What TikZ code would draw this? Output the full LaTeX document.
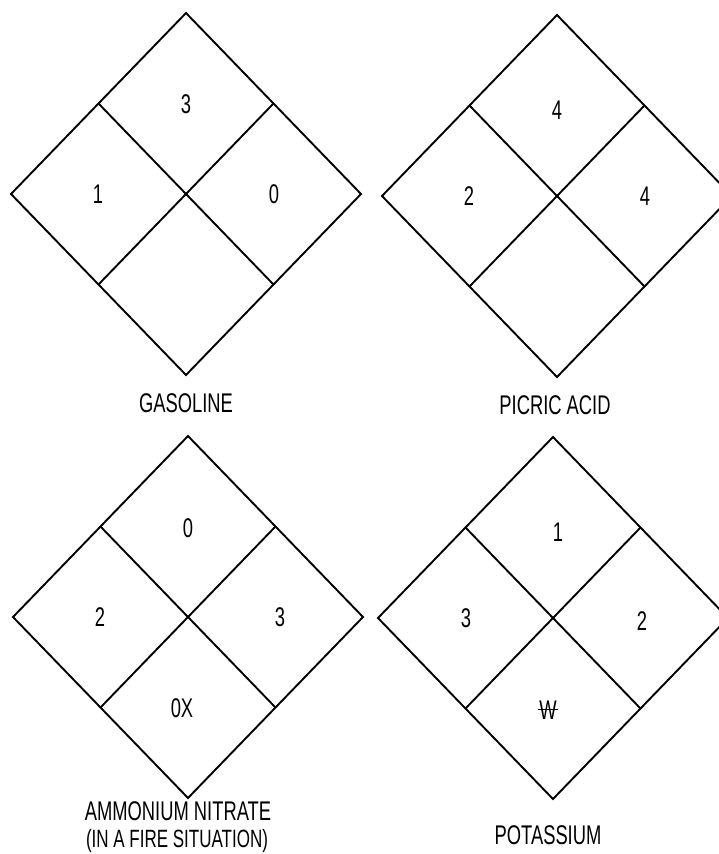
\documentclass[tikz,border=0pt]{standalone}
\usepackage{fontspec}
\setmainfont[FakeStretch=0.68]{Liberation Sans}
\begin{document}
\begin{tikzpicture}[
    x=1pt, y=-1pt,
    font=\fontsize{27}{30}\selectfont,
    %% Obrys kosoštvorca a deliace čiary
    hazline/.style={draw=black, line width=1.9pt, line join=miter},
    %% Číslo v poli
    rating/.style={inner sep=0pt},
    %% Názov látky
    caption/.style={inner sep=0pt, align=center}
]
\useasboundingbox (0,0) rectangle (719,854);
\clip (0,0) rectangle (719,854);

%% ══════════════════════════════════════════════════════════════════
%% PANEL (a) — Gasoline
%% ══════════════════════════════════════════════════════════════════
\begin{scope}[shift={(186,194)}]
    \coordinate (a1) at (0,-181);
    \coordinate (a2) at (175,0);
    \coordinate (a3) at (0,181);
    \coordinate (a4) at (-175,0);

    \draw[hazline] (a1) -- (a2) -- (a3) -- (a4) -- cycle;
    \draw[hazline] (-87.5,-90.5) coordinate (a5) -- (87.5,90.5) coordinate (a6);
    \draw[hazline] (87.5,-90.5) coordinate (a7) -- (-87.5,90.5) coordinate (a8);

    \node[rating] (a-top)   at (0,-90) {3};
    \node[rating] (a-left)  at (-88,0) {1};
    \node[rating] (a-right) at (88,0)  {0};

    \node[caption] (a-name) at (0,209) {GASOLINE};
\end{scope}

%% ══════════════════════════════════════════════════════════════════
%% PANEL (b) — Picric acid
%% ══════════════════════════════════════════════════════════════════
\begin{scope}[shift={(557,196)}]
    \coordinate (b1) at (0,-181);
    \coordinate (b2) at (175,0);
    \coordinate (b3) at (0,181);
    \coordinate (b4) at (-175,0);

    \draw[hazline] (b1) -- (b2) -- (b3) -- (b4) -- cycle;
    \draw[hazline] (-87.5,-90.5) coordinate (b5) -- (87.5,90.5) coordinate (b6);
    \draw[hazline] (87.5,-90.5) coordinate (b7) -- (-87.5,90.5) coordinate (b8);

    \node[rating] (b-top)   at (0,-86) {4};
    \node[rating] (b-left)  at (-88,0) {2};
    \node[rating] (b-right) at (88,0)  {4};

    \node[caption] (b-name) at (-2,209) {PICRIC ACID};
\end{scope}

%% ══════════════════════════════════════════════════════════════════
%% PANEL (c) — Ammonium nitrate
%% ══════════════════════════════════════════════════════════════════
\begin{scope}[shift={(188,617)}]
    \coordinate (c1) at (0,-181);
    \coordinate (c2) at (175,0);
    \coordinate (c3) at (0,181);
    \coordinate (c4) at (-175,0);

    \draw[hazline] (c1) -- (c2) -- (c3) -- (c4) -- cycle;
    \draw[hazline] (-87.5,-90.5) coordinate (c5) -- (87.5,90.5) coordinate (c6);
    \draw[hazline] (87.5,-90.5) coordinate (c7) -- (-87.5,90.5) coordinate (c8);

    \node[rating] (c-top)    at (0,-89) {0};
    \node[rating] (c-left)   at (-88,0) {2};
    \node[rating] (c-right)  at (92,0)  {3};
    \node[rating] (c-bottom) at (-6,91) {0X};

    \node[caption, anchor=base] (c-name) at (-10,203) {AMMONIUM NITRATE};
    \node[caption, anchor=base] (c-note) at (-11,230)
        {\fontsize{25}{28}\selectfont (IN A FIRE SITUATION)};
\end{scope}

%% ══════════════════════════════════════════════════════════════════
%% PANEL (d) — Potassium
%% ══════════════════════════════════════════════════════════════════
\begin{scope}[shift={(553,618)}]
    \coordinate (d1) at (0,-181);
    \coordinate (d2) at (175,0);
    \coordinate (d3) at (0,181);
    \coordinate (d4) at (-175,0);

    \draw[hazline] (d1) -- (d2) -- (d3) -- (d4) -- cycle;
    \draw[hazline] (-87.5,-90.5) coordinate (d5) -- (87.5,90.5) coordinate (d6);
    \draw[hazline] (87.5,-90.5) coordinate (d7) -- (-87.5,90.5) coordinate (d8);

    \node[rating] (d-top)    at (5,-86) {1};
    \node[rating] (d-left)   at (-87,0) {3};
    \node[rating] (d-right)  at (89,3)  {2};
    \node[rating] (d-bottom) at (-5,92)
        {\ooalign{W\cr\hidewidth\rule[0.33em]{0.75em}{1.2pt}\hidewidth\cr}};

    \node[caption] (d-name) at (-5,217) {POTASSIUM};
\end{scope}

\end{tikzpicture}
\end{document}
